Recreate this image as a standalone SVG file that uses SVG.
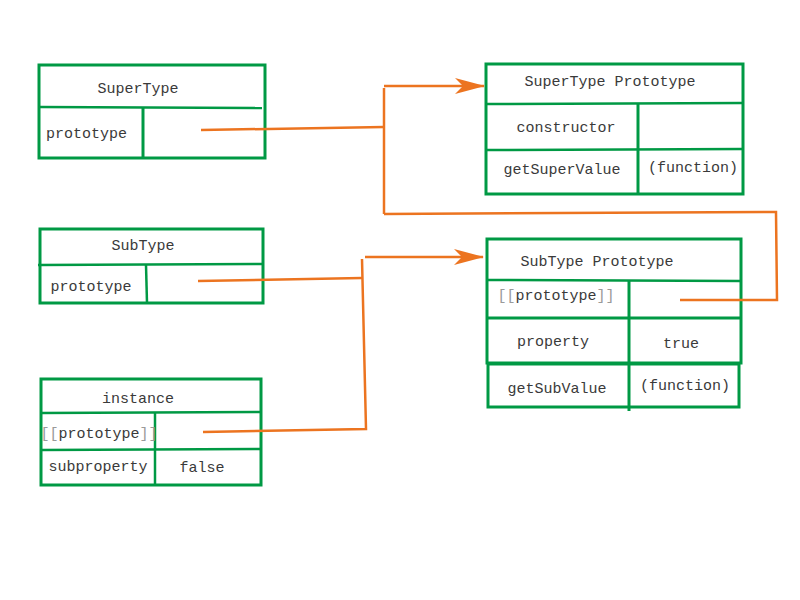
<svg xmlns="http://www.w3.org/2000/svg" width="800" height="600" viewBox="0 0 800 600">
<defs>
<style>
.box{fill:none;stroke:#009944;stroke-width:3}
.ln{fill:none;stroke:#009944;stroke-width:2.5}
.t{font-family:"Liberation Mono","DejaVu Sans Mono",monospace;font-size:15px;fill:#3a3a3a}
.g{fill:#9a9a9a}
.c{fill:none;stroke:#EC7420;stroke-width:2.5}
</style>
<marker id="ah" viewBox="0 0 30 20" refX="29" refY="10" markerWidth="30" markerHeight="20" markerUnits="userSpaceOnUse" orient="auto">
<path d="M0,2 L30,10 L0,18 L8,10 Z" fill="#EC7420"/>
</marker>
</defs>
<rect width="800" height="600" fill="#fff"/>

<g id="supertype">
<rect class="box" x="39" y="65" width="226" height="93"/>
<line class="ln" x1="39" y1="107" x2="262" y2="108"/>
<line class="box" x1="143" y1="107" x2="143" y2="158"/>
<text class="t" x="138" y="93" text-anchor="middle">SuperType</text>
<text class="t" x="46" y="138">prototype</text>
</g>

<g id="supertype-prototype">
<rect class="box" x="486" y="64" width="257" height="130"/>
<line class="ln" x1="486" y1="104" x2="743" y2="103"/>
<line class="ln" x1="486" y1="150" x2="743" y2="149"/>
<line class="box" x1="638" y1="103" x2="638" y2="194"/>
<text class="t" x="610" y="86" text-anchor="middle">SuperType Prototype</text>
<text class="t" x="566" y="132" text-anchor="middle">constructor</text>
<text class="t" x="562" y="174" text-anchor="middle">getSuperValue</text>
<text class="t" x="693" y="172" text-anchor="middle">(function)</text>
</g>

<g id="subtype">
<rect class="box" x="40" y="229" width="223" height="74"/>
<line class="ln" x1="38" y1="265" x2="263" y2="264"/>
<line class="ln" x1="146" y1="265" x2="147" y2="303"/>
<text class="t" x="143" y="250" text-anchor="middle">SubType</text>
<text class="t" x="91" y="291" text-anchor="middle">prototype</text>
</g>

<g id="subtype-prototype">
<rect class="box" x="487" y="239" width="254" height="124"/>
<line class="ln" x1="487" y1="280" x2="741" y2="281"/>
<line class="box" x1="487" y1="318" x2="741" y2="318"/>
<rect class="box" x="488" y="364" width="251" height="43"/>
<line class="box" x1="629" y1="280" x2="629" y2="411"/>
<text class="t" x="597" y="266" text-anchor="middle">SubType Prototype</text>
<text class="t" x="556" y="300" text-anchor="middle"><tspan class="g">[[</tspan>prototype<tspan class="g">]]</tspan></text>
<text class="t" x="553" y="346" text-anchor="middle">property</text>
<text class="t" x="681" y="348" text-anchor="middle">true</text>
<text class="t" x="557" y="393" text-anchor="middle">getSubValue</text>
<text class="t" x="685" y="390" text-anchor="middle">(function)</text>
</g>

<g id="instance">
<rect class="box" x="41" y="379" width="220" height="106"/>
<line class="ln" x1="41" y1="413" x2="261" y2="412"/>
<line class="ln" x1="41" y1="450" x2="261" y2="449"/>
<line class="ln" x1="155" y1="413" x2="155" y2="485"/>
<text class="t" x="138" y="403" text-anchor="middle">instance</text>
<text class="t" x="99" y="438" text-anchor="middle"><tspan class="g">[[</tspan>prototype<tspan class="g">]]</tspan></text>
<text class="t" x="98" y="471" text-anchor="middle">subproperty</text>
<text class="t" x="202" y="472" text-anchor="middle">false</text>
</g>

<g id="connectors">
<path class="c" d="M201,130 L384,127"/>
<path class="c" d="M384,88 L384,214"/>
<path class="c" d="M384,86 L484,86" marker-end="url(#ah)"/>
<path class="c" d="M384,214 L776,212 L777,300 L680,300"/>
<path class="c" d="M198,281 L362,278"/>
<path class="c" d="M203,432 L366,429 L362,259"/>
<path class="c" d="M365,257 L483,257" marker-end="url(#ah)"/>
</g>
</svg>
